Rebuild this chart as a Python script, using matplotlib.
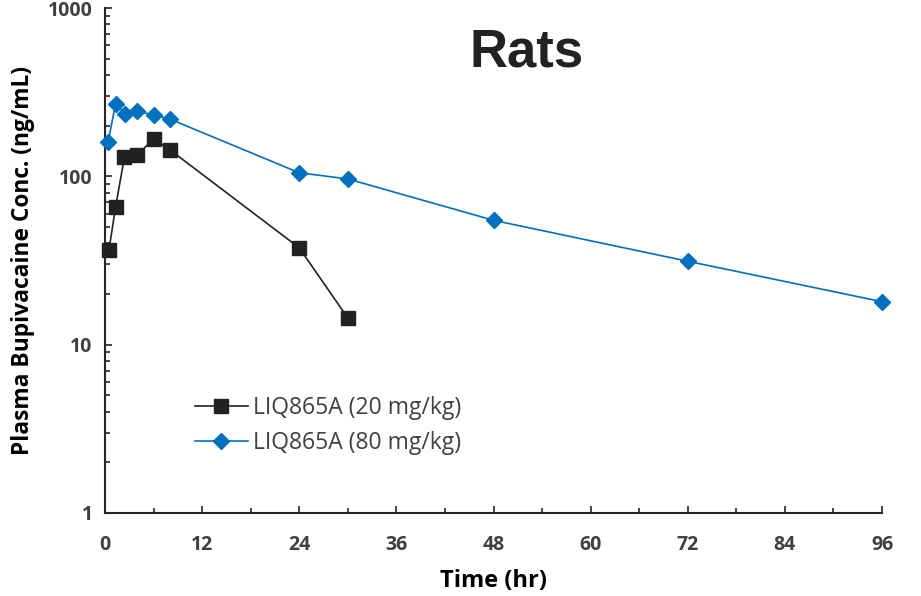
import matplotlib.pyplot as plt
from matplotlib.ticker import FixedLocator, LogLocator, NullFormatter

# time points (hr) and plasma concentrations (ng/mL)
time_20 = [0.5, 1.3, 2.4, 4, 6, 8, 24, 30]
conc_20 = [36.7, 65.5, 130, 134, 167, 144, 37.6, 14.4]

time_80 = [0.4, 1.3, 2.5, 4, 6, 8, 24, 30, 48, 72, 96]
conc_80 = [161, 270, 234, 243, 232, 219, 105, 96.5, 54.8, 31.3, 18.0]

series_labels = ["LIQ865A (20 mg/kg)", "LIQ865A (80 mg/kg)"]
x_ticks = [0, 12, 24, 36, 48, 60, 72, 84, 96]
y_ticks = [1, 10, 100, 1000]

axis_grey = "#262626"
text_grey = "#404040"

fig = plt.figure(figsize=(9.21, 5.96), dpi=100)
ax = fig.add_axes([105 / 921, 1 - 513 / 596, (882 - 105) / 921, (513 - 8) / 596])

ax.plot(time_20, conc_20, color="#222222", lw=1.2, marker="s", ms=10.5,
        label=series_labels[0], clip_on=False, zorder=3)
ax.plot(time_80, conc_80, color="#0070C0", lw=1.2, marker="D", ms=7.8,
        label=series_labels[1], clip_on=False, zorder=3)

ax.set_yscale("log")
ax.set_xlim(0, 96)
ax.set_ylim(1, 1000)
ax.set_xticks(x_ticks)
ax.xaxis.set_minor_locator(FixedLocator(range(6, 96, 12)))
ax.yaxis.set_major_locator(FixedLocator(y_ticks))
ax.yaxis.set_minor_locator(LogLocator(base=10, subs=range(2, 10)))
ax.yaxis.set_minor_formatter(NullFormatter())
ax.set_yticklabels([str(v) for v in y_ticks])

for side in ["top", "right"]:
    ax.spines[side].set_visible(False)
for side in ["left", "bottom"]:
    ax.spines[side].set_color(axis_grey)
    ax.spines[side].set_linewidth(1.5)

ax.tick_params(which="major", direction="in", length=5, width=1.2, color=axis_grey)
ax.tick_params(which="minor", direction="in", length=3.5, width=1.2, color=axis_grey)
ax.tick_params(axis="x", which="major", pad=16)
ax.tick_params(axis="y", which="major", pad=9)
for lbl in ax.get_xticklabels() + ax.get_yticklabels():
    lbl.set_fontfamily("Open Sans")
    lbl.set_fontweight("bold")
    lbl.set_fontsize(14)
    lbl.set_color(text_grey)

ax.set_xlabel("Time (hr)", fontfamily="Open Sans", fontweight="bold",
              fontsize=17, color="black", labelpad=10)
ax.set_ylabel("Plasma Bupivacaine Conc. (ng/mL)", fontfamily="Open Sans",
              fontweight="bold", fontsize=16.4, color="black", labelpad=9)

ax.text(0.543, 0.912, "Rats", transform=ax.transAxes, ha="center", va="center",
        fontfamily="Liberation Sans", fontweight="bold", fontsize=38, color="#222222")

leg = ax.legend(loc="upper left", bbox_to_anchor=(0.095, 0.264), frameon=False,
                handlelength=2.3, labelspacing=0.48, handletextpad=0.25,
                borderaxespad=0.3, prop={"family": "Open Sans", "size": 16.5})
for t in leg.get_texts():
    t.set_color(text_grey)

fig.savefig("out.png", dpi=100)
